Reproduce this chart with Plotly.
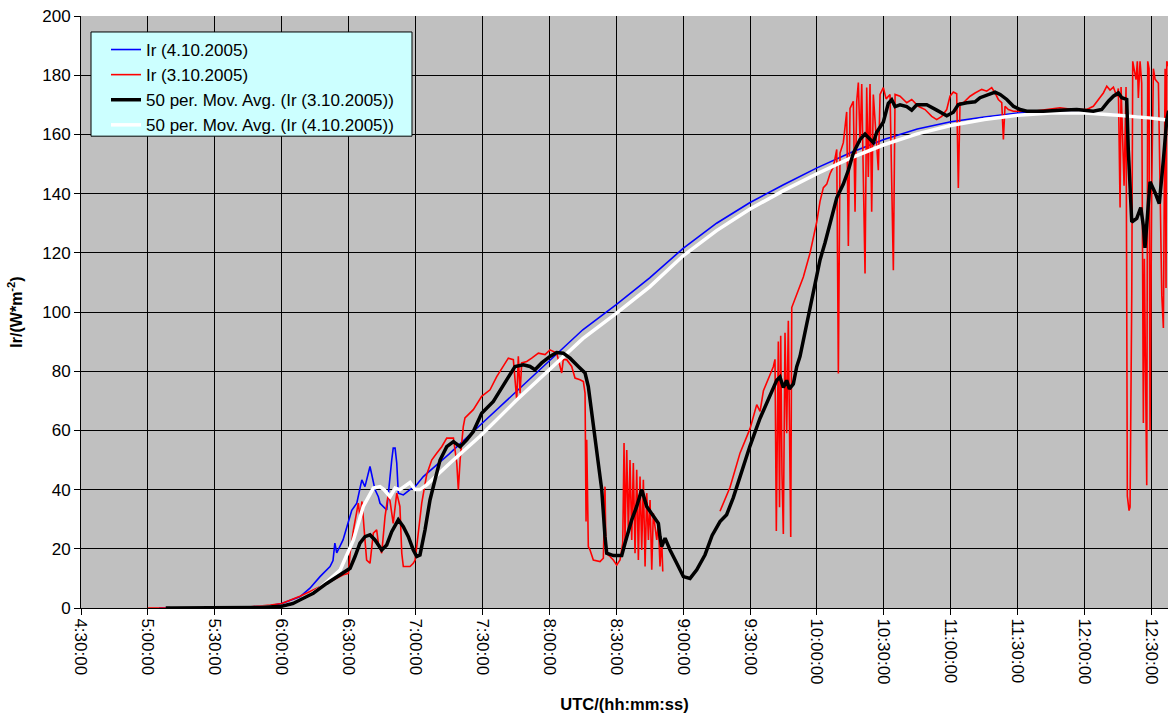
import plotly.graph_objects as go

# Global irradiance Ir on two days, sampled in UTC (time, W/m^2)
IR_0410 = [
    ("5:05:00", 0.0), ("5:30:00", 0.0), ("5:45:00", 0.3), ("5:55:00", 0.8), ("6:00:00", 1.5),
    ("6:04:00", 2.5), ("6:08:10", 3.8), ("6:12:40", 6.7), ("6:17:10", 10.6), ("6:21:40", 14.0),
    ("6:23:00", 16.0), ("6:23:50", 21.9), ("6:24:40", 18.6), ("6:27:30", 23.0), ("6:31:25", 33.0),
    ("6:33:40", 35.4), ("6:35:55", 43.3), ("6:37:20", 41.0), ("6:39:35", 47.8), ("6:41:50", 40.0),
    ("6:43:20", 37.6), ("6:44:05", 35.4), ("6:45:35", 34.3), ("6:47:05", 33.1), ("6:49:20", 50.0),
    ("6:50:00", 54.0), ("6:50:50", 54.0), ("6:51:35", 49.0), ("6:52:17", 38.8), ("6:54:32", 38.2),
    ("6:57:32", 40.0), ("6:59:48", 41.0), ("7:03:30", 44.4), ("7:15:00", 52.0), ("7:30:00", 62.5),
    ("7:45:00", 73.0), ("8:00:00", 83.5), ("8:15:00", 94.0), ("8:30:00", 102.5), ("8:45:00", 111.5),
    ("9:00:00", 121.5), ("9:15:00", 130.0), ("9:30:00", 137.0), ("9:45:00", 143.0), ("10:00:00", 148.7),
    ("10:15:00", 153.8), ("10:30:00", 158.3), ("10:45:00", 161.8), ("11:00:00", 164.3), ("11:15:00", 165.9),
    ("11:30:00", 167.2), ("11:45:00", 167.6), ("12:00:00", 167.3), ("12:15:00", 166.6), ("12:30:00", 165.6),
    ("12:37:40", 164.9),
]

IR_0310 = [
    ("5:00:00", 0.0), ("5:05:00", 0.0), ("5:30:00", 0.0), ("5:45:00", 0.3), ("5:50:00", 0.6),
    ("5:55:00", 1.0), ("6:00:00", 1.5), ("6:04:00", 2.6), ("6:08:10", 4.0), ("6:17:10", 7.2),
    ("6:23:10", 9.5), ("6:27:40", 11.2), ("6:29:55", 11.7), ("6:30:40", 18.5), ("6:32:10", 26.4),
    ("6:34:20", 35.4), ("6:35:05", 30.9), ("6:36:00", 36.0), ("6:37:20", 23.0), ("6:38:05", 16.2),
    ("6:39:35", 15.1), ("6:41:05", 25.3), ("6:42:35", 26.4), ("6:43:20", 21.9), ("6:44:50", 18.5),
    ("6:46:20", 30.9), ("6:47:50", 38.8), ("6:48:35", 36.0), ("6:50:00", 28.6), ("6:51:35", 38.8),
    ("6:53:00", 34.3), ("6:53:50", 18.5), ("6:54:32", 14.0), ("6:57:32", 14.0), ("6:59:00", 15.1),
    ("6:59:48", 16.2), ("7:00:32", 20.7), ("7:02:47", 35.4), ("7:05:00", 45.0), ("7:07:16", 50.0),
    ("7:09:30", 52.3), ("7:11:45", 54.5), ("7:14:00", 57.4), ("7:17:00", 57.4), ("7:18:30", 49.0),
    ("7:19:12", 40.0), ("7:20:00", 50.0), ("7:21:25", 61.3), ("7:22:10", 64.2), ("7:25:55", 67.0),
    ("7:29:40", 71.5), ("7:33:25", 73.7), ("7:36:25", 78.2), ("7:40:08", 82.8), ("7:41:37", 84.4),
    ("7:43:52", 83.9), ("7:45:23", 70.3), ("7:46:06", 85.0), ("7:46:52", 72.6), ("7:47:37", 82.8),
    ("7:49:52", 83.3), ("7:52:06", 84.4), ("7:55:05", 86.1), ("7:58:05", 85.6), ("8:00:18", 87.2),
    ("8:03:18", 86.1), ("8:05:33", 79.4), ("8:06:16", 83.9), ("8:07:47", 83.9), ("8:10:02", 81.6),
    ("8:11:31", 77.7), ("8:13:46", 77.1), ("8:15:16", 76.5), ("8:16:01", 72.6), ("8:16:28", 29.2),
    ("8:16:46", 56.8), ("8:17:29", 20.7), ("8:18:15", 19.6), ("8:19:44", 16.2), ("8:22:44", 15.7),
    ("8:24:13", 16.8), ("8:24:58", 41.0), ("8:25:25", 18.5), ("8:27:13", 17.4), ("8:28:42", 16.2),
    ("8:30:13", 14.5), ("8:31:42", 16.2), ("8:32:55", 21.9), ("8:33:30", 55.7), ("8:33:56", 23.0),
    ("8:34:43", 53.4), ("8:35:26", 25.3), ("8:36:11", 50.0), ("8:36:57", 23.0), ("8:37:40", 49.0),
    ("8:38:26", 18.5), ("8:39:11", 46.7), ("8:39:56", 16.2), ("8:40:40", 44.4), ("8:41:26", 19.6),
    ("8:42:10", 43.3), ("8:42:56", 14.0), ("8:43:40", 38.8), ("8:44:26", 23.0), ("8:45:10", 36.5),
    ("8:45:56", 12.9), ("8:46:38", 32.0), ("8:48:10", 23.0), ("8:48:54", 28.6), ("8:49:38", 14.0),
    ("8:50:24", 23.0), ("8:50:52", 12.3), ("8:51:00", None),
    ("9:16:32", 32.7), ("9:21:02", 40.8), ("9:25:32", 52.4), ("9:30:00", 60.6), ("9:33:00", 68.7),
    ("9:34:30", 66.4), ("9:36:00", 73.4), ("9:39:00", 79.2), ("9:40:26", 81.5), ("9:41:12", 84.0),
    ("9:41:47", 26.0), ("9:42:41", 90.0), ("9:43:13", 34.0), ("9:43:45", 92.0), ("9:44:20", 45.0),
    ("9:44:56", 25.0), ("9:45:41", 93.0), ("9:46:26", 59.0), ("9:47:10", 97.0), ("9:47:37", 66.0),
    ("9:48:15", 24.0), ("9:48:42", 101.5), ("9:50:56", 106.0), ("9:53:54", 111.8), ("9:56:54", 119.9),
    ("9:59:54", 130.4), ("10:01:23", 137.4), ("10:02:53", 142.0), ("10:04:24", 143.2), ("10:05:52", 146.7),
    ("10:07:22", 149.0), ("10:08:53", 154.9), ("10:09:36", 79.2), ("10:10:21", 153.7), ("10:11:50", 157.2),
    ("10:12:35", 163.0), ("10:13:20", 167.6), ("10:14:05", 122.3), ("10:14:50", 168.8), ("10:16:19", 171.2),
    ("10:17:05", 133.9), ("10:17:50", 171.2), ("10:18:34", 177.5), ("10:19:20", 157.2), ("10:20:05", 177.0),
    ("10:20:48", 145.6), ("10:21:34", 113.0), ("10:22:19", 175.8), ("10:23:02", 145.6), ("10:23:48", 177.0),
    ("10:24:33", 133.9), ("10:25:17", 173.5), ("10:26:48", 157.2), ("10:27:32", 147.9), ("10:28:18", 173.5),
    ("10:29:47", 175.8), ("10:31:00", 172.0), ("10:32:47", 173.5), ("10:34:16", 114.1), ("10:35:02", 173.5),
    ("10:37:16", 172.9), ("10:40:16", 170.7), ("10:42:30", 171.8), ("10:45:28", 169.5), ("10:48:28", 168.4),
    ("10:51:28", 166.1), ("10:53:42", 165.0), ("10:55:57", 166.1), ("10:58:12", 168.4), ("10:59:40", 172.9),
    ("11:01:10", 174.3), ("11:02:40", 173.7), ("11:03:24", 141.9), ("11:04:10", 170.7), ("11:05:38", 170.7),
    ("11:08:40", 172.9), ("11:10:54", 174.0), ("11:13:54", 175.2), ("11:16:08", 174.6), ("11:18:22", 175.8),
    ("11:19:52", 174.0), ("11:21:20", 171.8), ("11:22:52", 170.7), ("11:23:36", 158.3), ("11:24:20", 169.5),
    ("11:25:50", 168.4), ("11:28:05", 167.8), ("11:31:05", 167.8), ("11:37:00", 167.8), ("11:43:00", 168.4),
    ("11:49:00", 169.0), ("11:55:00", 168.4), ("12:01:00", 168.4), ("12:03:56", 169.5), ("12:06:12", 171.8),
    ("12:08:26", 174.0), ("12:09:58", 176.3), ("12:11:26", 175.0), ("12:12:56", 176.0), ("12:14:26", 172.9),
    ("12:15:10", 175.5), ("12:15:56", 135.3), ("12:16:22", 176.0), ("12:17:43", 142.7), ("12:18:36", 176.0),
    ("12:19:11", 37.8), ("12:19:57", 32.9), ("12:20:24", 34.1), ("12:21:10", 105.7), ("12:21:36", 184.7),
    ("12:23:05", 178.5), ("12:23:40", 184.7), ("12:24:07", 172.3), ("12:24:53", 184.7), ("12:25:38", 177.3),
    ("12:26:22", 62.5), ("12:26:49", 118.0), ("12:27:26", 60.0), ("12:27:53", 41.5), ("12:28:20", 184.7),
    ("12:28:55", 182.2), ("12:29:22", 60.0), ("12:30:08", 142.7), ("12:30:52", 182.2), ("12:31:38", 178.6),
    ("12:33:07", 177.3), ("12:34:38", 105.7), ("12:35:21", 94.6), ("12:36:07", 182.2), ("12:36:32", 108.1),
    ("12:36:52", 184.7), ("12:37:40", 183.0),
]

# 50-period moving averages as plotted
MA_0310 = [
    ("5:08:00", 0.0), ("5:30:00", 0.0), ("5:50:00", 0.2), ("6:00:00", 0.6), ("6:05:00", 1.5),
    ("6:08:10", 2.7), ("6:14:10", 5.0), ("6:20:10", 8.3), ("6:26:10", 11.2), ("6:30:40", 13.4),
    ("6:32:52", 17.4), ("6:35:05", 21.9), ("6:37:20", 24.1), ("6:39:35", 24.7), ("6:41:50", 23.0),
    ("6:44:50", 19.6), ("6:47:05", 21.3), ("6:49:20", 25.8), ("6:52:17", 29.8), ("6:54:32", 27.5),
    ("6:56:47", 24.1), ("6:59:00", 19.6), ("7:00:32", 17.4), ("7:02:00", 17.9), ("7:04:16", 26.4),
    ("7:06:30", 36.5), ("7:08:44", 43.3), ("7:11:00", 50.0), ("7:14:00", 54.5), ("7:17:00", 56.2),
    ("7:20:00", 54.5), ("7:22:58", 56.8), ("7:25:55", 59.6), ("7:29:40", 65.8), ("7:34:54", 69.8),
    ("7:40:08", 76.0), ("7:44:37", 81.6), ("7:48:20", 82.2), ("7:51:20", 81.6), ("7:53:34", 80.5),
    ("7:56:34", 82.8), ("8:00:18", 85.0), ("8:03:18", 86.3), ("8:06:16", 86.1), ("8:09:17", 84.4),
    ("8:13:00", 81.6), ("8:16:01", 79.4), ("8:17:29", 74.8), ("8:19:00", 65.8), ("8:21:15", 54.5),
    ("8:23:30", 40.0), ("8:24:58", 24.1), ("8:25:44", 18.5), ("8:28:42", 17.7), ("8:32:28", 17.7),
    ("8:33:56", 21.9), ("8:36:57", 29.8), ("8:39:11", 34.3), ("8:41:26", 40.0), ("8:43:40", 34.3),
    ("8:46:38", 30.9), ("8:48:54", 28.6), ("8:49:38", 24.1), ("8:50:24", 20.7), ("8:51:54", 23.6),
    ("8:54:08", 19.6), ("8:57:08", 15.1), ("9:00:06", 10.6), ("9:03:06", 10.0), ("9:06:06", 12.9),
    ("9:09:50", 18.0), ("9:13:00", 24.5), ("9:16:32", 29.2), ("9:19:30", 31.5), ("9:22:30", 37.3),
    ("9:25:32", 44.3), ("9:30:00", 54.8), ("9:34:30", 64.1), ("9:39:00", 72.2), ("9:41:58", 76.9),
    ("9:43:26", 78.0), ("9:44:56", 74.5), ("9:46:26", 76.9), ("9:47:38", 74.0), ("9:49:25", 75.7),
    ("9:50:56", 81.5), ("9:52:25", 85.0), ("9:54:40", 93.2), ("9:56:54", 101.3), ("9:59:08", 108.3),
    ("10:01:23", 117.6), ("10:03:38", 123.4), ("10:05:52", 130.4), ("10:08:53", 138.6), ("10:11:50", 143.2),
    ("10:14:05", 147.9), ("10:16:19", 153.7), ("10:19:20", 158.3), ("10:21:34", 160.1), ("10:23:48", 158.3),
    ("10:25:17", 157.2), ("10:26:48", 160.7), ("10:29:47", 164.2), ("10:32:00", 170.5), ("10:33:32", 171.7),
    ("10:35:02", 169.4), ("10:37:16", 170.0), ("10:40:16", 169.4), ("10:42:30", 168.2), ("10:44:46", 170.0),
    ("10:49:14", 170.0), ("10:53:42", 168.2), ("10:58:12", 166.3), ("11:01:10", 167.5), ("11:03:24", 170.1),
    ("11:07:10", 170.7), ("11:10:54", 171.0), ("11:13:08", 172.4), ("11:16:52", 173.5), ("11:19:52", 174.3),
    ("11:22:08", 173.5), ("11:25:08", 171.8), ("11:28:05", 169.5), ("11:31:05", 168.4), ("11:34:06", 167.8),
    ("11:41:32", 167.8), ("11:49:00", 168.2), ("11:56:30", 168.4), ("12:03:56", 167.8), ("12:07:42", 168.4),
    ("12:10:42", 171.2), ("12:12:56", 172.9), ("12:15:10", 174.0), ("12:16:42", 172.4), ("12:18:54", 171.8),
    ("12:19:36", 155.0), ("12:21:10", 130.4), ("12:23:24", 131.6), ("12:25:12", 135.3), ("12:26:22", 129.1),
    ("12:27:06", 121.7), ("12:28:08", 130.4), ("12:29:22", 144.0), ("12:31:38", 140.3), ("12:33:30", 136.6),
    ("12:35:21", 151.4), ("12:36:52", 164.9), ("12:37:40", 168.0),
]

MA_0410 = [
    ("5:10:00", 0.0), ("5:45:00", 0.0), ("6:00:00", 0.5), ("6:05:00", 1.5), ("6:08:10", 2.7),
    ("6:12:40", 4.4), ("6:17:10", 6.7), ("6:26:10", 12.8), ("6:32:10", 23.0), ("6:36:35", 34.3),
    ("6:41:05", 40.5), ("6:44:05", 41.0), ("6:45:50", 40.0), ("6:48:35", 37.6), ("6:50:50", 40.5),
    ("6:53:00", 40.0), ("6:57:32", 42.4), ("6:59:48", 40.0), ("7:02:00", 40.0), ("7:05:00", 41.6),
    ("7:15:30", 49.0), ("7:28:55", 58.0), ("7:45:00", 70.0), ("8:00:00", 80.5), ("8:15:00", 91.0),
    ("8:30:00", 99.5), ("8:45:00", 108.5), ("9:00:00", 119.0), ("9:15:00", 127.5), ("9:30:00", 134.8),
    ("9:45:00", 141.0), ("10:00:00", 146.7), ("10:15:00", 152.0), ("10:30:00", 156.5), ("10:45:00", 160.2),
    ("11:00:00", 163.0), ("11:15:00", 165.0), ("11:30:00", 166.5), ("11:45:00", 167.2), ("12:00:00", 167.2),
    ("12:15:00", 166.5), ("12:30:00", 165.5), ("12:37:40", 164.8),
]

TICK_LABELS = ["4:30:00", "5:00:00", "5:30:00", "6:00:00", "6:30:00", "7:00:00", "7:30:00",
               "8:00:00", "8:30:00", "9:00:00", "9:30:00", "10:00:00", "10:30:00",
               "11:00:00", "11:30:00", "12:00:00", "12:30:00"]
X_START, X_END = "4:30:00", "12:37:25"


def to_sec(hms):
    h, m, s = (int(p) for p in hms.split(":"))
    return h * 3600 + m * 60 + s


def unpack(series):
    return [to_sec(t) for t, _ in series], [v for _, v in series]


FONT = "Arial, 'Liberation Sans', sans-serif"

fig = go.Figure()
x, y = unpack(IR_0410)
fig.add_trace(go.Scatter(x=x, y=y, mode="lines", name="Ir (4.10.2005)",
                         line=dict(color="#0000FF", width=1.6), legendrank=1))
x, y = unpack(IR_0310)
fig.add_trace(go.Scatter(x=x, y=y, mode="lines", name="Ir (3.10.2005)",
                         line=dict(color="#FF0000", width=1.6), legendrank=2))
x, y = unpack(MA_0410)
fig.add_trace(go.Scatter(x=x, y=y, mode="lines", name="50 per. Mov. Avg. (Ir (4.10.2005))",
                         line=dict(color="#FFFFFF", width=3.5), legendrank=4))
x, y = unpack(MA_0310)
fig.add_trace(go.Scatter(x=x, y=y, mode="lines", name="50 per. Mov. Avg. (Ir (3.10.2005))",
                         line=dict(color="#000000", width=3.5), legendrank=3))

# legend frame (cyan box with thin border) drawn as a paper-referenced rectangle
fig.add_shape(type="rect", xref="paper", yref="paper",
              x0=0.0092, x1=0.3045, y0=0.797, y1=0.973,
              fillcolor="#CCFFFF", line=dict(color="#000000", width=1), layer="above")

fig.update_layout(
    width=1168, height=713,
    margin=dict(l=81, r=0, t=16, b=105),
    plot_bgcolor="#C0C0C0", paper_bgcolor="#FFFFFF",
    font=dict(family=FONT, size=16, color="#000000"),
    showlegend=True,
    legend=dict(x=0.023, y=0.973, xanchor="left", yanchor="top",
                bgcolor="rgba(0,0,0,0)", borderwidth=0,
                font=dict(family=FONT, size=17, color="#000000"),
                tracegroupgap=0, itemwidth=30),
)
fig.update_xaxes(
    range=[to_sec(X_START), to_sec(X_END)],
    tickvals=[to_sec(X_START) + 1800 * i for i in range(len(TICK_LABELS))],
    ticktext=TICK_LABELS, tickangle=90,
    ticks="outside", ticklen=6, tickcolor="#000000",
    tickfont=dict(family=FONT, size=17),
    showgrid=True, gridcolor="#000000", gridwidth=1,
    showline=True, linecolor="#000000", linewidth=1, zeroline=False,
    title=dict(text="<b>UTC/(hh:mm:ss)</b>", font=dict(family=FONT, size=16.5), standoff=14),
)
fig.update_yaxes(
    range=[0, 200], tick0=0, dtick=20,
    ticks="outside", ticklen=6, tickcolor="#000000",
    tickfont=dict(family=FONT, size=17),
    showgrid=True, gridcolor="#000000", gridwidth=1,
    showline=True, linecolor="#000000", linewidth=1, zeroline=False,
    title=dict(text="<b>Ir/(W*m<sup>-2</sup>)</b>", font=dict(family=FONT, size=16)),
)

fig.write_html("out.html")
